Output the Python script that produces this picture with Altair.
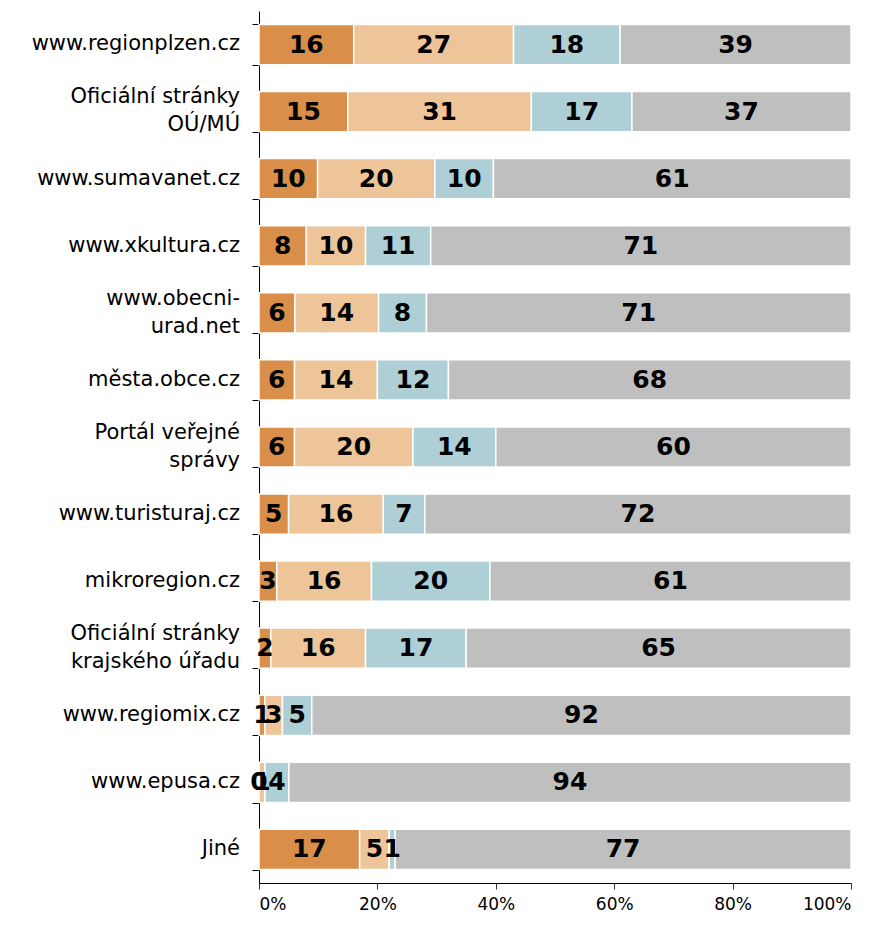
import altair as alt
import pandas as pd

categories = ["www.regionplzen.cz", "Oficiální stránky|OÚ/MÚ", "www.sumavanet.cz",
              "www.xkultura.cz", "www.obecni-|urad.net", "města.obce.cz",
              "Portál veřejné|správy", "www.turisturaj.cz", "mikroregion.cz",
              "Oficiální stránky|krajského úřadu", "www.regiomix.cz", "www.epusa.cz", "Jiné"]
series_names = ["A", "B", "C", "D"]
s1 = [16, 15, 10, 8, 6, 6, 6, 5, 3, 2, 1, 0, 17]
s2 = [27, 31, 20, 10, 14, 14, 20, 16, 16, 16, 3, 1, 5]
s3 = [18, 17, 10, 11, 8, 12, 14, 7, 20, 17, 5, 4, 1]
s4 = [39, 37, 61, 71, 71, 68, 60, 72, 61, 65, 92, 94, 77]
colors = ["#D98E4A", "#EDC599", "#AECFD6", "#BFBFBF"]

rows = []
for k, vals in enumerate([s1, s2, s3, s4]):
    for c, v in zip(categories, vals):
        rows.append({"cat": c, "series": series_names[k], "order": k, "value": v})
df = pd.DataFrame(rows)
df_labels = pd.DataFrame({"cat": categories})

base = alt.Chart(df).transform_joinaggregate(
    total="sum(value)", groupby=["cat"]
).transform_calculate(
    pct="datum.value / datum.total"
).transform_stack(
    stack="pct", groupby=["cat"], as_=["x0", "x1"], sort=[alt.SortField("order")]
).transform_calculate(
    mid="(datum.x0 + datum.x1) / 2"
)

y_scale = alt.Scale(domain=categories, paddingInner=0.4, paddingOuter=0.2)

y_enc = alt.Y("cat:N", sort=categories, title=None, scale=y_scale,
              axis=alt.Axis(labels=False, tickBand="extent", tickSize=7, tickColor="#000",
                            domainColor="#000"))

bars = base.mark_bar(stroke="white", strokeWidth=1.5).encode(
    x=alt.X("x0:Q", title=None, scale=alt.Scale(domain=[0, 1], nice=False),
            axis=alt.Axis(format="%", values=[0, 0.2, 0.4, 0.6, 0.8, 1.0], grid=False,
                          labelFont="DejaVu Sans", labelFontSize=17, labelColor="#000",
                          tickColor="#333", domainColor="#000", tickSize=6, labelPadding=7)),
    x2="x1:Q",
    y=y_enc,
    color=alt.Color("series:N", scale=alt.Scale(domain=series_names, range=colors), legend=None),
)

texts = base.mark_text(font="DejaVu Sans", fontWeight="bold", fontSize=25, color="#000").encode(
    x="mid:Q",
    y=alt.Y("cat:N", sort=categories, scale=y_scale),
    text=alt.Text("value:Q", format="d"),
)

ylabels = alt.Chart(df_labels).transform_calculate(
    off="indexof(datum.cat, '|') >= 0 ? 6 : 20"
).mark_text(font="DejaVu Sans", fontSize=21, color="#000", align="right",
            baseline="middle", lineBreak="|", lineHeight=28).encode(
    x=alt.value(-19),
    y=alt.Y("cat:N", sort=categories, scale=y_scale),
    yOffset=alt.YOffset("off:Q", scale=None),
    text="cat:N",
)

chart = alt.layer(bars, texts, ylabels).properties(
    width=592, height=872,
    autosize=alt.AutoSizeParams(type="none"),
    padding={"left": 251, "top": 3, "right": 24, "bottom": 33},
).configure_view(stroke=None)

chart.save("out.html", embed_options={"renderer": "svg", "actions": False})
